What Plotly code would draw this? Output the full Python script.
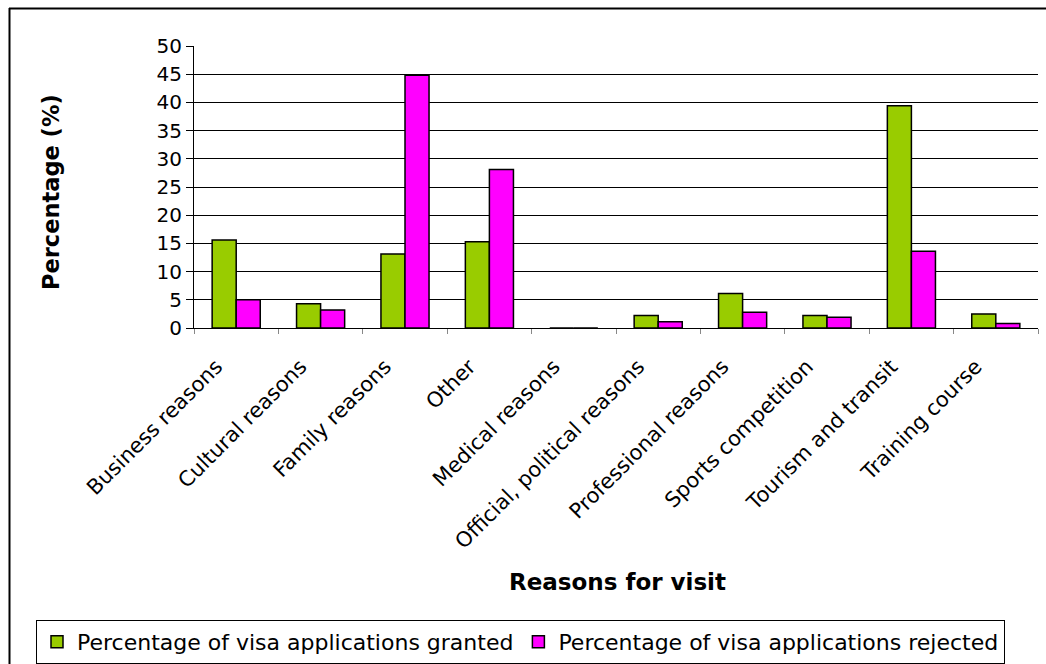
import plotly.graph_objects as go

reasons = [
    "Business reasons", "Cultural reasons", "Family reasons", "Other",
    "Medical reasons", "Official, political reasons", "Professional reasons",
    "Sports competition", "Tourism and transit", "Training course",
]
granted = [15.6, 4.3, 13.1, 15.3, 0.0, 2.2, 6.1, 2.2, 39.4, 2.5]
rejected = [5.0, 3.2, 44.8, 28.1, 0.0, 1.1, 2.8, 1.9, 13.6, 0.8]
y_ticks = [0, 5, 10, 15, 20, 25, 30, 35, 40, 45, 50]

FONT = "DejaVu Sans, Verdana, sans-serif"
W, H = 1046, 664
ML, MR, MT, MB = 194, 8, 46, 336
PW, PH = W - ML - MR, H - MT - MB


def px_x(x):
    return (x - ML) / PW


def px_y(y):
    return (H - MB - y) / PH


fig = go.Figure()
fig.add_trace(go.Bar(
    x=reasons, y=granted, name="Percentage of visa applications granted",
    marker=dict(color="#99CC00", line=dict(color="black", width=1.5)),
))
fig.add_trace(go.Bar(
    x=reasons, y=rejected, name="Percentage of visa applications rejected",
    marker=dict(color="#FF00FF", line=dict(color="black", width=1.5)),
))

fig.update_layout(
    width=W, height=H,
    margin=dict(l=ML, r=MR, t=MT, b=MB, pad=0, autoexpand=False),
    paper_bgcolor="white", plot_bgcolor="white",
    barmode="group", bargap=0.43, bargroupgap=0,
    font=dict(family=FONT, size=20, color="black"),
    showlegend=True,
    legend=dict(
        orientation="h", xref="paper", yref="paper",
        x=px_x(36), xanchor="left", y=px_y(620), yanchor="top",
        bordercolor="black", borderwidth=1, font=dict(size=22, family=FONT),
        tracegroupgap=0,
    ),
    xaxis=dict(
        automargin=False,
        tickangle=-45, tickson="boundaries", ticks="outside", ticklen=5,
        tickcolor="#888888", showline=True, linecolor="black", linewidth=1,
        showgrid=False, tickfont=dict(size=21, family=FONT),
        ticklabelstandoff=17, ticklabelshift=-20,
    ),
    yaxis=dict(
        automargin=False,
        range=[0, 50], tickvals=y_ticks, ticktext=[str(v) for v in y_ticks],
        ticks="outside", ticklen=7, tickcolor="black",
        showline=True, linecolor="black", linewidth=1,
        showgrid=True, gridcolor="black", gridwidth=1, zeroline=False,
        tickfont=dict(size=20, family=FONT),
    ),
    annotations=[
        dict(text="<b>Reasons for visit</b>", xref="paper", yref="paper",
             x=px_x(617), y=px_y(582), xanchor="center", yanchor="middle",
             showarrow=False, font=dict(size=23, family=FONT)),
        dict(text="<b>Percentage (%)</b>", xref="paper", yref="paper",
             x=px_x(51), y=px_y(192), xanchor="center", yanchor="middle",
             textangle=-90, showarrow=False, font=dict(size=22.5, family=FONT)),
    ],
    shapes=[
        dict(type="line", xref="paper", yref="paper", x0=px_x(9), x1=px_x(W + 2),
             y0=px_y(8.5), y1=px_y(8.5), line=dict(color="black", width=2)),
        dict(type="line", xref="paper", yref="paper", x0=px_x(9.5), x1=px_x(9.5),
             y0=px_y(8), y1=px_y(H + 2), line=dict(color="black", width=2)),
    ],
)

fig.write_html("out.html")
